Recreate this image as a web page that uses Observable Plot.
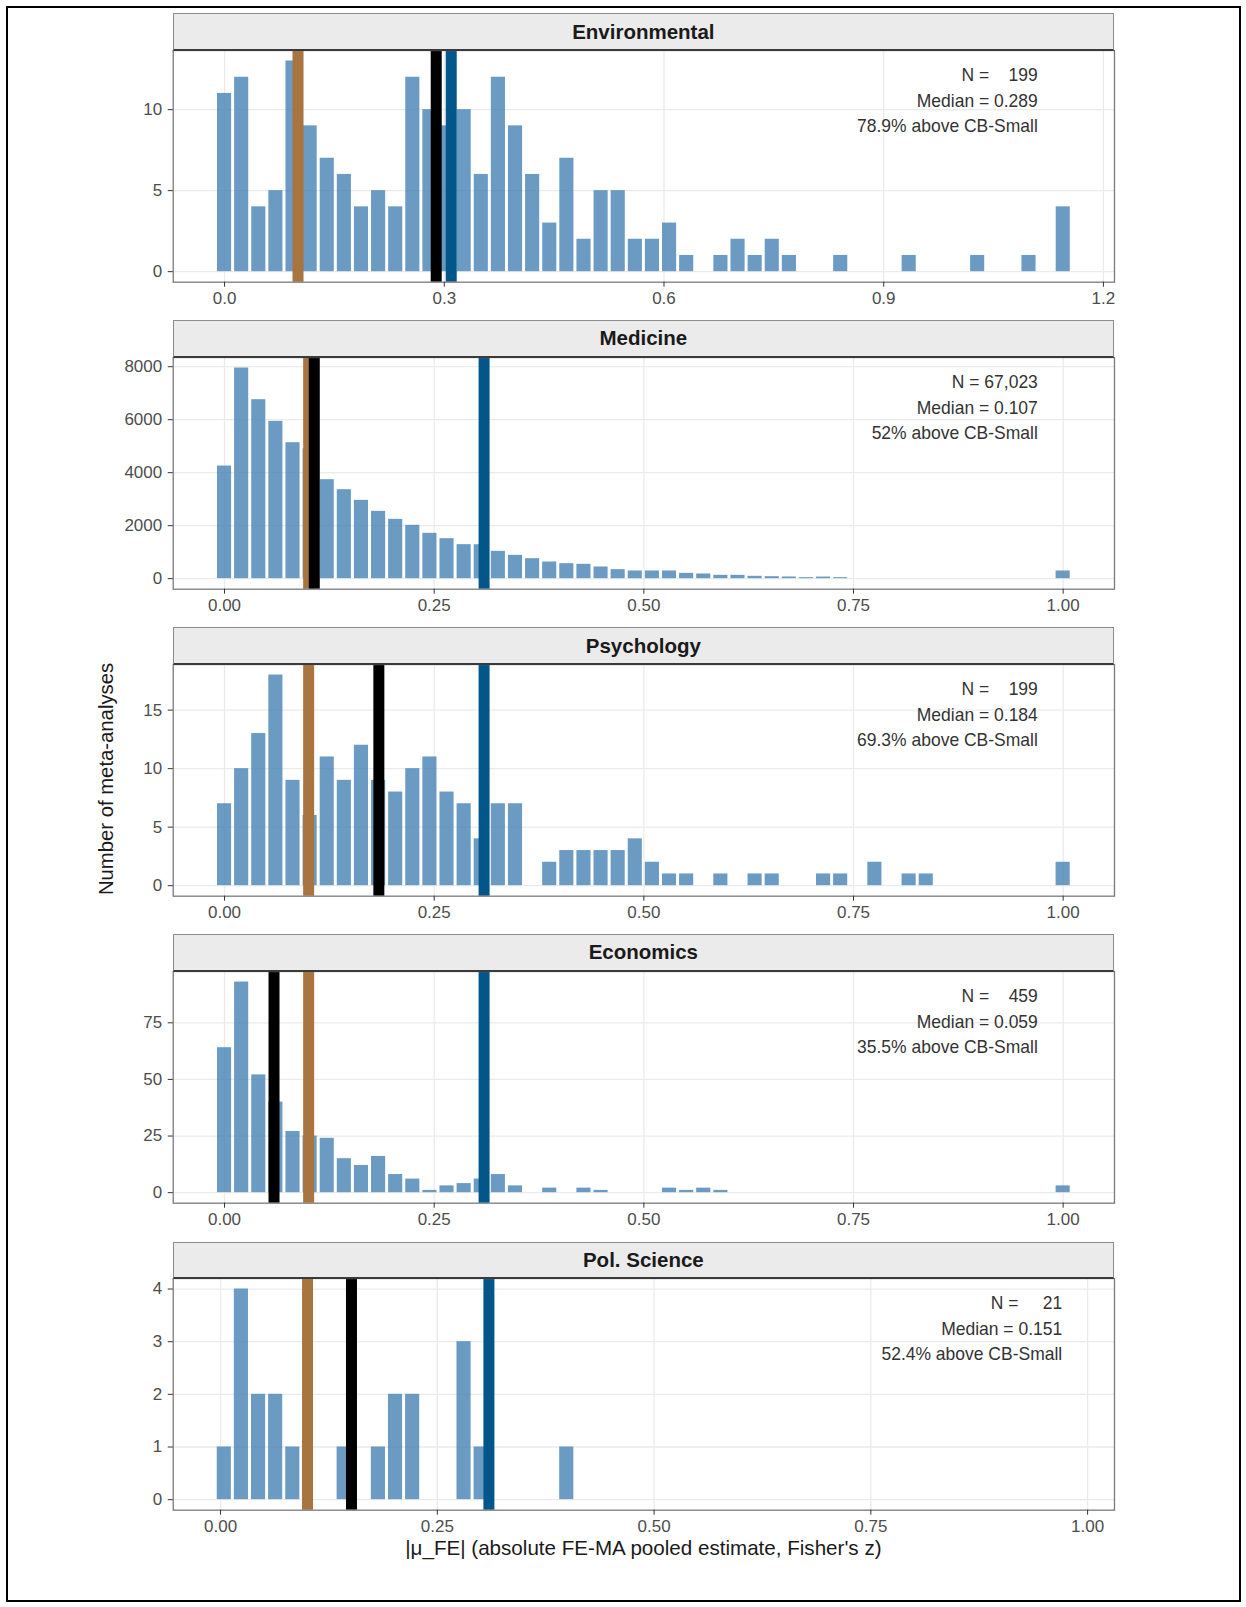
<!DOCTYPE html>
<html>
<head>
<meta charset="utf-8">
<script src="https://cdn.jsdelivr.net/npm/d3@7"></script>
<script src="https://cdn.jsdelivr.net/npm/@observablehq/plot@0.6"></script>
<style>
  body { margin: 0; background: #fff; font-family: "Liberation Sans", Arial, sans-serif; }
  #page { position: relative; width: 1246px; height: 1607px; overflow: hidden; background: #fff; }
  .outer { position: absolute; left: 6px; top: 6px; width: 1235px; height: 1596px; box-sizing: border-box; border: 2.5px solid #000; pointer-events: none; }
  .strip { position: absolute; box-sizing: border-box; background: #ebebeb; border: 1px solid #8c8c8c; border-bottom: 2px solid #3a3a3a;
           font-weight: bold; font-size: 20.5px; color: #1a1a1a; display: flex; align-items: center; justify-content: center; }
  .panel { position: absolute; left: 0; }
  .panel svg text { white-space: pre; }
  .ytitle { position: absolute; transform: translate(-50%, -50%) rotate(-90deg); white-space: nowrap; font-size: 20.3px; color: #1a1a1a; }
  .xtitle { position: absolute; transform: translate(-50%, -50%); white-space: nowrap; font-size: 20.6px; color: #1a1a1a; }
</style>
</head>
<body>
<div id="page"></div>
<script>
// ---------------- data ----------------
const panelNames = ["Environmental", "Medicine", "Psychology", "Economics", "Pol. Science"];

const envCounts = [11,12,4,5,13,9,7,6,4,5, 4,12,10,9,10,6,12,9,6,3, 7,2,5,5,2,2,3,1,0,1, 2,1,2,1,0,0,1,0,0,0, 1,0,0,0,1,0,0,1,0,4];
const medCounts = [4250,7950,6755,5937,5132,4900,3736,3358,2956,2541, 2239,2013,1711,1509,1283,1280,1031,880,755,629,
                   566,541,440,340,290,290,290,200,176,126, 126,88,75,63,38,60,38,0,0,0, 0,0,0,0,0,0,0,0,0,290];
const psyCounts = [7,10,13,18,9,6,11,9,12,9, 8,10,11,8,7,4,7,7,0,2, 3,3,3,3,4,2,1,1,0,1, 0,1,1,0,0,1,1,0,2,0, 1,1,0,0,0,0,0,0,0,2];
const ecoCounts = [64,93,52,40,27,25,24,15,12,16, 8,6,1,3,4,6,8,3,0,2, 0,2,1,0,0,0,2,1,2,1, 0,0,0,0,0,0,0,0,0,0, 0,0,0,0,0,0,0,0,0,3];
const polCounts = [1,4,2,2,1,0,0,1,0,1, 2,2,0,0,3,1,0,0,0,0, 1];

const binStart = [0, 0, 0, 0, 0.0043];
const binWidth = [0.02337, 0.020408, 0.020408, 0.020408, 0.01975];

const medians = [0.289, 0.107, 0.184, 0.059, 0.151];
const cbSmall = 0.1003;
const cbMedium = 0.3095;

const nLabels = ["N =    199", "N = 67,023", "N =    199", "N =    459", "N =     21"];
const medianLabels = ["Median = 0.289", "Median = 0.107", "Median = 0.184", "Median = 0.059", "Median = 0.151"];
const aboveLabels = ["78.9% above CB-Small", "52% above CB-Small", "69.3% above CB-Small", "35.5% above CB-Small", "52.4% above CB-Small"];

const xTicks = [[0, 0.3, 0.6, 0.9, 1.2], [0, 0.25, 0.5, 0.75, 1], [0, 0.25, 0.5, 0.75, 1], [0, 0.25, 0.5, 0.75, 1], [0, 0.25, 0.5, 0.75, 1]];
const xTickDigits = [1, 2, 2, 2, 2];
const yTicks = [[0, 5, 10], [0, 2000, 4000, 6000, 8000], [0, 5, 10, 15], [0, 25, 50, 75], [0, 1, 2, 3, 4]];
const xDomains = [[-0.0701, 1.2151], [-0.0612, 1.0612], [-0.0612, 1.0612], [-0.0612, 1.0612], [-0.0546, 1.031]];
const annX = [1.1104, 0.9698, 0.9698, 0.9698, 0.9707];

const countsList = [envCounts, medCounts, psyCounts, ecoCounts, polCounts];

// ---------------- layout ----------------
const stripTops = [13.3, 320, 627.3, 934, 1241.7];
const stripH = 36.7;
const panelH = 231.7;
const padTop = 4;
const padBottom = 36;
const mLeft = 172.7;
const mRight = 132;

const page = document.getElementById("page");

countsList.forEach((counts, i) => {
  const bins = counts.map((c, k) => ({
    x1: binStart[i] + (k - 0.5) * binWidth[i],
    x2: binStart[i] + (k + 0.5) * binWidth[i],
    n: c
  })).filter(d => d.n > 0);
  const maxC = d3.max(counts);
  const fmt = d3.format("." + xTickDigits[i] + "f");
  const annStyle = { x: annX[i], frameAnchor: "top", lineAnchor: "middle", text: d => d, textAnchor: "end", fontSize: 17.5, fill: "#333" };

  const chart = Plot.plot({
    width: 1246,
    height: padTop + panelH + padBottom,
    marginLeft: mLeft,
    marginRight: mRight,
    marginTop: padTop,
    marginBottom: padBottom,
    x: { domain: xDomains[i] },
    y: { domain: [-0.05 * maxC, 1.05 * maxC] },
    style: { background: "transparent", fontFamily: "'Liberation Sans', Arial, sans-serif", fontSize: "17px", color: "#4d4d4d", overflow: "visible" },
    marks: [
      Plot.gridX(xTicks[i], { stroke: "#ebebeb", strokeOpacity: 1, strokeWidth: 1.3 }),
      Plot.gridY(yTicks[i], { stroke: "#ebebeb", strokeOpacity: 1, strokeWidth: 1.3 }),
      Plot.rectY(bins, { x1: "x1", x2: "x2", y1: 0, y2: "n", fill: "steelblue", fillOpacity: 0.8, insetLeft: 1.5, insetRight: 1.5 }),
      Plot.ruleX([cbSmall], { stroke: "#a8743f", strokeWidth: 11 }),
      Plot.ruleX([medians[i]], { stroke: "#000000", strokeWidth: 11 }),
      Plot.ruleX([cbMedium], { stroke: "#03568a", strokeWidth: 11 }),
      Plot.frame({ stroke: "#7a7a7a", strokeWidth: 1.3 }),
      Plot.axisX(xTicks[i], { tickFormat: fmt, tickSize: 5, tickPadding: 5, label: null, fontSize: 17, fill: "#4d4d4d", stroke: "#333" }),
      Plot.axisY(yTicks[i], { tickFormat: d => String(d), tickSize: 5, tickPadding: 6, label: null, fontSize: 17, fill: "#4d4d4d", stroke: "#333" }),
      Plot.text([nLabels[i]], { ...annStyle, dy: 25 }),
      Plot.text([medianLabels[i]], { ...annStyle, dy: 50.5 }),
      Plot.text([aboveLabels[i]], { ...annStyle, dy: 76 })
    ]
  });

  const wrap = document.createElement("div");
  wrap.className = "panel";
  wrap.style.top = (stripTops[i] + stripH - padTop) + "px";
  wrap.appendChild(chart);
  page.appendChild(wrap);

  const strip = document.createElement("div");
  strip.className = "strip";
  strip.style.left = mLeft + "px";
  strip.style.top = stripTops[i] + "px";
  strip.style.width = (1246 - mLeft - mRight) + "px";
  strip.style.height = (stripH + 1) + "px";
  strip.textContent = panelNames[i];
  page.appendChild(strip);
});

const yt = document.createElement("div");
yt.className = "ytitle";
yt.style.left = "105.5px";
yt.style.top = "779px";
yt.textContent = "Number of meta-analyses";
page.appendChild(yt);

const xt = document.createElement("div");
xt.className = "xtitle";
xt.style.left = "643.4px";
xt.style.top = "1548px";
xt.textContent = "|μ_FE| (absolute FE-MA pooled estimate, Fisher's z)";
page.appendChild(xt);

const outer = document.createElement("div");
outer.className = "outer";
page.appendChild(outer);
</script>
</body>
</html>
